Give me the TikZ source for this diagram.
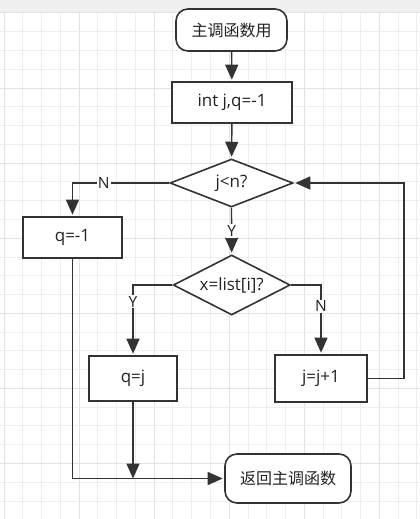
\documentclass[tikz,border=0pt]{standalone}
\usepackage{fontspec}
\setmainfont{Open Sans}
\newfontfamily\cjk{Noto Sans CJK SC}
\usetikzlibrary{arrows.meta,shapes.geometric}
\definecolor{ln}{HTML}{333333}
\definecolor{txt}{HTML}{222222}
\definecolor{gminor}{HTML}{EEEEEE}
\definecolor{gmajor}{HTML}{E2E2E2}
\definecolor{band}{HTML}{F0F0F0}
\tikzset{
  shp/.style={draw=ln, line width=1.6pt, fill=white, inner sep=0pt, text=txt,
    font=\fontsize{17}{20}\selectfont},
  term/.style={shp, rectangle, rounded corners=12pt},
  procbox/.style={shp, rectangle},
  dia/.style={shp, diamond, aspect=2},
  arr/.style={draw=ln, line width=1.4pt, -{Triangle[length=15pt,width=13pt]}, shorten >=1.5pt},
  lbl/.style={fill=white, inner sep=1pt, text=txt, font=\fontsize{15.5}{18}\selectfont},
}
\begin{document}
\begin{tikzpicture}[x=1pt,y=-1pt]
\useasboundingbox (0,0) rectangle (420,519);
\fill[white] (0,0) rectangle (420,519);
\fill[band] (0,0) rectangle (420,13);
% grid
\foreach \i in {0,...,22} {
  \pgfmathsetmacro{\gx}{4+18.77*\i}
  \pgfmathtruncatemacro{\m}{mod(\i,4)}
  \ifnum\m=0 \draw[gmajor, line width=1pt] (\gx,13) -- (\gx,519);
  \else \draw[gminor, line width=1pt] (\gx,13) -- (\gx,519); \fi
}
\foreach \i in {0,...,27} {
  \pgfmathsetmacro{\gy}{13+18.77*\i}
  \pgfmathtruncatemacro{\m}{mod(\i,4)}
  \ifnum\m=0 \draw[gmajor, line width=1pt] (0,\gy) -- (420,\gy);
  \else \draw[gminor, line width=1pt] (0,\gy) -- (420,\gy); \fi
}
% nodes
\node[term, minimum width=111pt, minimum height=42pt] (start) at (231.5,30) {\cjk\fontsize{16}{19}\selectfont 主调函数用};
\node[procbox, minimum width=120pt, minimum height=41pt] (init) at (232,102.5) {int j,q=-1};
\node[dia, minimum width=123pt, minimum height=48pt] (c1) at (231.5,183) {j<n?};
\node[procbox, minimum width=99pt, minimum height=41pt] (qm1) at (72.5,237.5) {q=-1};
\node[dia, minimum width=117pt, minimum height=60pt] (c2) at (231.7,285) {x=list[i]?};
\node[procbox, minimum width=88pt, minimum height=45pt] (qj) at (133,378.5) {q=j};
\node[procbox, minimum width=92pt, minimum height=47pt] (jinc) at (321,378.5) {j=j+1};
\node[term, minimum width=126pt, minimum height=49pt] (end) at (288,478.5) {\cjk\fontsize{16}{19}\selectfont 返回主调函数};
\coordinate (loopx) at (404,183);
% connectors
\draw[arr] (start) -- (init);
\draw[arr] (init) -- (c1);
\draw[arr] (c1.west) -| node[lbl, pos=0.338]{N} (qm1.north);
\draw[arr] (c1.south) -- node[lbl]{Y} (c2.north);
\draw[arr] (c2.west) -| node[lbl, pos=0.62]{Y} (qj.north);
\draw[arr] (c2.east) -| node[lbl, pos=0.655]{N} (jinc.north);
\draw[arr] (jinc.east) -- (jinc.east -| loopx) |- (c1.east);
\draw[arr, shorten >=0pt] (qj.south) -- (qj.south |- end.west);
\draw[arr] (qm1.south) |- (end.west);
\end{tikzpicture}
\end{document}
